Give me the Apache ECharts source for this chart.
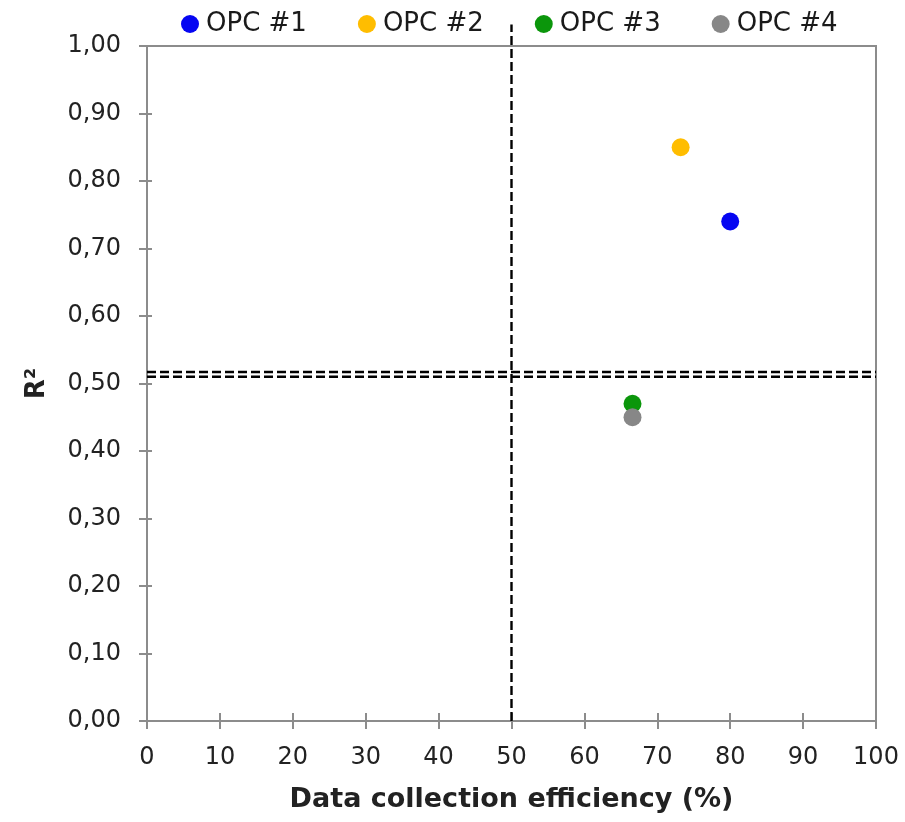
<!DOCTYPE html>
<html>
<head>
<meta charset="utf-8">
<script src="https://cdn.jsdelivr.net/npm/echarts@6/dist/echarts.min.js"></script>
<style>
  html, body { margin: 0; padding: 0; background: #fff; }
  #chart { width: 905px; height: 822px; }
</style>
</head>
<body>
<div id="chart"></div>
<script>
// Instrument names and their (efficiency %, R²) results
const seriesNames = ['OPC #1', 'OPC #2', 'OPC #3', 'OPC #4'];
const efficiency = [80.0, 73.2, 66.6, 66.6];
const rSquared = [0.74, 0.85, 0.47, 0.45];
const colors = ['#0606f2', '#ffbd00', '#0b960b', '#878787'];

// Reference thresholds
const effThreshold = 50;
const effGuideR2 = [0, 1.032];      // vertical guide runs a little above the frame
const r2Thresholds = [0.517, 0.51];

const FONT = '"DejaVu Sans", "Liberation Sans", Arial, sans-serif';
const axisGray = '#8c8c8c';

const fmtComma = v => v.toFixed(2).replace('.', ',');

const series = seriesNames.map((name, i) => ({
  name,
  type: 'scatter',
  data: [[efficiency[i], rSquared[i]]],
  symbolSize: 18,
  itemStyle: { color: colors[i], opacity: 1 },
  z: 5
}));

const guideStyle = { color: '#000', width: 2.4, type: [9, 4] };

// Vertical efficiency guide
series.push({
  type: 'line',
  data: effGuideR2.map(r => [effThreshold, r]),
  symbol: 'none',
  clip: false,
  silent: true,
  lineStyle: guideStyle,
  z: 3
});

// Horizontal R² guides
r2Thresholds.forEach(t => {
  series.push({
    type: 'line',
    data: [[0, t], [100, t]],
    symbol: 'none',
    silent: true,
    lineStyle: guideStyle,
    z: 3
  });
});

const chart = echarts.init(document.getElementById('chart'), null, { renderer: 'canvas' });
chart.setOption({
  animation: false,
  backgroundColor: '#fff',
  textStyle: { fontFamily: FONT },
  legend: {
    data: seriesNames,
    top: 6,
    left: 176,
    itemGap: 51,
    itemWidth: 18,
    itemHeight: 18,
    icon: 'circle',
    textStyle: { fontSize: 26, color: '#1a1a1a', fontFamily: FONT, padding: [0, 0, 0, 2] }
  },
  grid: {
    left: 147, right: 29, top: 46, bottom: 101,
    show: true, borderColor: axisGray, borderWidth: 2, backgroundColor: 'transparent'
  },
  xAxis: [{
    type: 'value', min: 0, max: 100, interval: 10, position: 'bottom',
    name: 'Data collection efficiency (%)',
    nameLocation: 'middle', nameGap: 65,
    nameTextStyle: { fontSize: 27, fontWeight: 'bold', color: '#222', fontFamily: FONT },
    axisLine: { show: true, lineStyle: { color: axisGray, width: 2 } },
    axisTick: { show: true, length: 8, lineStyle: { color: axisGray, width: 2 } },
    axisLabel: { fontSize: 24, color: '#222', margin: 25, fontFamily: FONT },
    splitLine: { show: false }
  }, {
    type: 'value', min: 0, max: 100, interval: 10, position: 'bottom',
    axisLine: { show: false },
    axisTick: { show: true, inside: true, length: 8, lineStyle: { color: axisGray, width: 2 } },
    axisLabel: { show: false },
    splitLine: { show: false }
  }],
  yAxis: [{
    type: 'value', min: 0, max: 1, interval: 0.1, position: 'left',
    name: 'R²',
    nameLocation: 'middle', nameGap: 97, nameRotate: 90,
    nameTextStyle: { fontSize: 26, fontWeight: 'bold', color: '#222', fontFamily: FONT },
    axisLine: { show: true, lineStyle: { color: axisGray, width: 2 } },
    axisTick: { show: true, length: 8, lineStyle: { color: axisGray, width: 2 } },
    axisLabel: { fontSize: 24, color: '#222', margin: 26, formatter: fmtComma, fontFamily: FONT },
    splitLine: { show: false }
  }, {
    type: 'value', min: 0, max: 1, interval: 0.1, position: 'left',
    axisLine: { show: false },
    axisTick: { show: true, inside: true, length: 5, lineStyle: { color: axisGray, width: 2 } },
    axisLabel: { show: false },
    splitLine: { show: false }
  }],
  series
});
</script>
</body>
</html>
